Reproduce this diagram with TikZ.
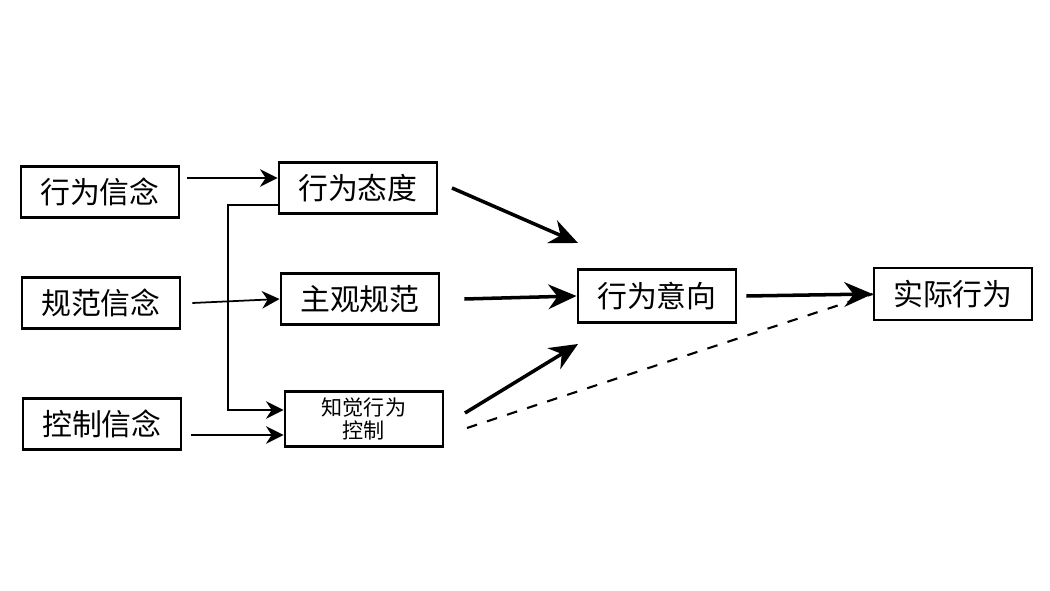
\documentclass[tikz,border=0pt]{standalone}
\usepackage{fontspec}
\newfontfamily\cjk{Noto Sans CJK SC}
\usetikzlibrary{arrows.meta}
\begin{document}
\begin{tikzpicture}[x=0.01cm,y=-0.01cm,
  box/.style={draw, line width=0.8pt, minimum width=1.58cm, minimum height=0.51cm, inner sep=0pt, font=\cjk\fontsize{8.5pt}{9pt}\selectfont},
  thin/.style={-{Stealth[length=5pt,width=5pt]}, line width=0.5pt},
  thick/.style={-{Stealth[length=8pt,width=7pt]}, line width=1pt}]
  \useasboundingbox (0,0) rectangle (1050,591);
  % left column
  \node [box] (B1) at (100,192) {行为信念};
  \node [box] (B2) at (101,303) {规范信念};
  \node [box] (B3) at (102,424) {控制信念};
  % middle column
  \node [box] (A) at (358,188) {行为态度};
  \node [box] (N) at (360,299) {主观规范};
  \node [box, minimum height=0.55cm, align=center, font=\cjk\fontsize{6pt}{6.5pt}\selectfont] (P) at (364,419) {知觉行为\\控制};
  % right
  \node [box, minimum height=0.53cm] (I) at (657,296) {行为意向};
  \node [box, minimum height=0.52cm] (R) at (953,294) {实际行为};
  \coordinate (j1) at (228,205);
  \coordinate (j2) at (228,410);
  \draw [thin] (B1.east |- 0,178) ++(7,0) -- (A.west |- 0,178);
  \draw [thin] (A.west |- j1) -- (j1) -- (j2) -- (P.west |- j2);
  \draw [thin] (B2.east) ++(11,0) -- (N.west);
  \draw [thin] (B3.east |- 0,435) ++(9,0) -- (P.west |- 0,435);
  \draw [thick] (452,188) -- (578,243);
  \draw [thick] (N.east) ++(24,0) -- (I.west);
  \draw [thick] (465,413) -- (578,344);
  \draw [thick] (I.east) ++(9,0) -- (R.west);
  \draw [dashed, line width=0.6pt] (467,428) -- (R.west);
\end{tikzpicture}
\end{document}
